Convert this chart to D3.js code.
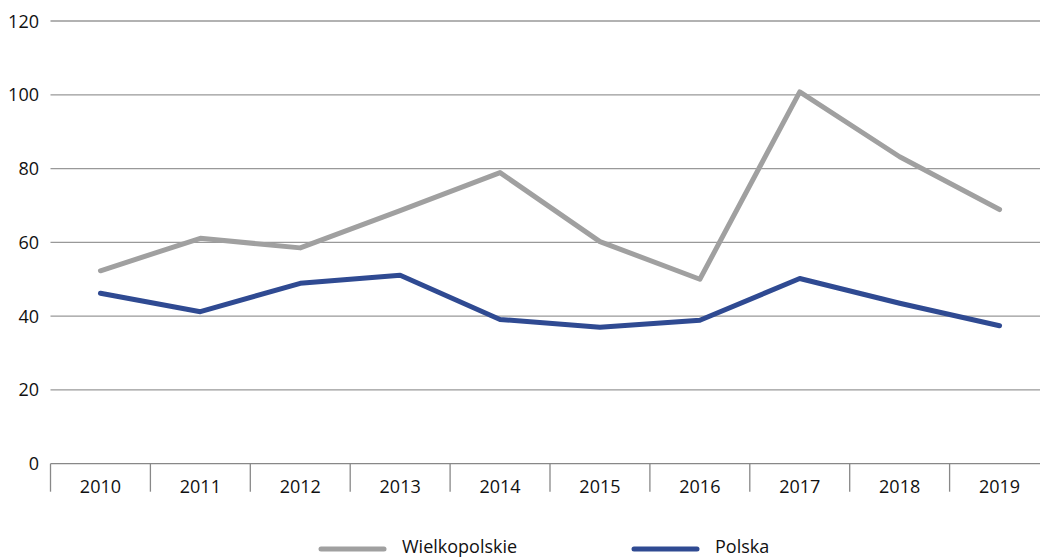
<!DOCTYPE html>
<html><head><meta charset="utf-8">
<script src="https://cdn.jsdelivr.net/npm/d3@7"></script>
<style>body{margin:0;background:#fff}svg{display:block}text{font-family:"Open Sans",sans-serif;fill:#111}</style>
</head><body>
<svg id="c" width="1040" height="558"></svg>
<script>
const years = ["2010","2011","2012","2013","2014","2015","2016","2017","2018","2019"];
const wielkopolskie = [52.3, 61.1, 58.5, 68.6, 78.9, 60.2, 50.0, 100.8, 83.2, 68.9];
const polska = [46.2, 41.2, 48.9, 51.1, 39.1, 37.0, 38.9, 50.2, 43.5, 37.4];
const yTicks = [0, 20, 40, 60, 80, 100, 120];
const seriesNames = ["Wielkopolskie", "Polska"];
const seriesColors = ["#a0a0a0", "#2f4a92"];

const svg = d3.select("#c");
const plotLeft = 50.5, plotRight = 1049.5, plotTop = 21, plotBottom = 463.7;
const x = d3.scaleBand().domain(years).range([plotLeft, plotRight]);
const y = d3.scaleLinear().domain([0, 120]).range([plotBottom, plotTop]);

// gridlines
svg.append("g").selectAll("line").data(yTicks.filter(d => d > 0)).join("line")
  .attr("x1", plotLeft).attr("x2", 1040).attr("y1", d => y(d)).attr("y2", d => y(d))
  .attr("stroke", "#999").attr("stroke-width", 1.3);

// y labels
svg.append("g").selectAll("text").data(yTicks).join("text")
  .attr("x", 39).attr("y", d => y(d) + 6.5).attr("text-anchor", "end")
  .attr("font-size", 18).text(d => d);

// x axis
svg.append("line").attr("x1", plotLeft).attr("x2", 1040).attr("y1", y(0)).attr("y2", y(0))
  .attr("stroke", "#888").attr("stroke-width", 1.3);
const bounds = years.map(d => x(d)).concat([x(years[years.length-1]) + x.bandwidth()]);
svg.append("g").selectAll("line").data(bounds).join("line")
  .attr("x1", d => d).attr("x2", d => d).attr("y1", y(0)).attr("y2", 491.7)
  .attr("stroke", "#888").attr("stroke-width", 1.3);
svg.append("g").selectAll("text").data(years).join("text")
  .attr("x", d => x(d) + x.bandwidth()/2).attr("y", 493).attr("text-anchor", "middle")
  .attr("font-size", 18).text(d => d);

// lines
const line = d3.line().x((d, i) => x(years[i]) + x.bandwidth()/2).y(d => y(d));
[wielkopolskie, polska].forEach((s, k) => {
  svg.append("path").attr("d", line(s)).attr("fill", "none")
    .attr("stroke", seriesColors[k]).attr("stroke-width", 5)
    .attr("stroke-linejoin", "round").attr("stroke-linecap", "round");
});

// legend
const legX = [321, 634];
seriesNames.forEach((n, k) => {
  svg.append("line").attr("x1", legX[k]).attr("x2", legX[k] + 63).attr("y1", 549).attr("y2", 549)
    .attr("stroke", seriesColors[k]).attr("stroke-width", 5).attr("stroke-linecap", "round");
  svg.append("text").attr("x", legX[k] + 81).attr("y", 553).attr("font-size", 18).text(n);
});
</script>
</body></html>
